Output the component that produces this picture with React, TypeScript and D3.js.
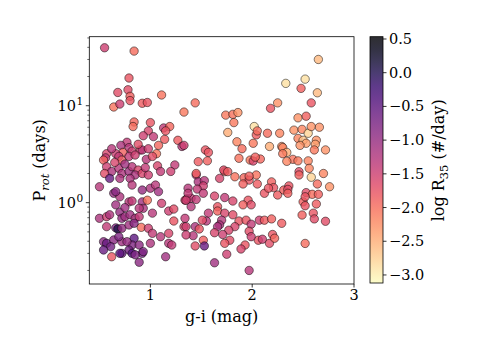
import * as d3 from 'd3';
import React from 'react';

// g-i colour (mag) of each star
const giVals = [
  // upper left
  0.55, 0.84, 0.79, 0.68, 0.78, 0.80, 0.80, 0.64, 0.70, 0.92, 0.97, 1.11, 1.44, 1.33, 0.84, 0.83, 1.00, 0.98, 0.93, 1.03,
  1.13, 1.19, 1.14, 1.27, 1.31, 1.08, 1.06, 1.54, 1.15,
  // left, 2-4 days
  0.77, 0.71, 0.79, 0.82, 0.90, 0.92, 0.98, 0.73, 0.66, 0.57, 0.56, 0.54, 0.69, 0.72, 0.79, 0.85, 0.96, 1.07, 1.24, 0.57,
  0.62, 0.55, 0.69, 0.72, 0.79, 0.82, 0.88, 0.85, 0.92, 0.98, 0.60, 1.10, 1.20, 0.70, 0.80, 0.62, 0.88, 0.75, 0.95, 0.65,
  1.02,
  // lower left
  0.50, 0.64, 0.70, 0.66, 0.82, 0.92, 1.00, 1.05, 1.08, 0.79, 0.82, 0.92, 0.97, 0.93, 1.11, 1.18, 1.23, 1.34, 1.36, 1.23,
  1.33, 0.50, 0.57, 0.60, 0.70, 0.72, 0.75, 0.80, 0.85, 0.89, 0.57, 0.66, 0.68, 0.72, 0.91, 0.79, 0.84, 0.98, 1.02, 1.10,
  1.18, 0.54, 0.57, 0.64, 0.61, 0.72, 0.84, 0.82, 0.79, 0.72, 0.82, 0.92, 0.89, 0.93, 0.89, 0.62, 1.00, 1.15, 1.18, 1.21,
  0.54, 0.69, 0.70, 0.77, 0.85, 0.89, 0.75, 1.02, 0.66,
  // middle, upper
  1.74, 1.81, 1.86, 1.82, 2.02, 2.04, 2.05, 2.15, 1.76, 1.85, 1.90, 2.01, 2.17, 2.27, 2.29, 1.57, 1.56, 1.47, 1.87, 1.98,
  2.01, 2.08, 1.73, 1.72, 1.76, 1.83, 1.68, 1.92, 1.97, 1.91, 2.04, 2.05, 2.19, 1.45, 1.47, 1.53, 1.52, 1.46, 1.37, 1.40,
  1.52, 1.73, 2.12, 2.25, 2.31, 2.21,
  // middle, lower
  1.81, 1.96, 1.91, 1.99, 1.66, 1.66, 1.73, 1.81, 1.57, 1.55, 1.70, 1.68, 1.66, 1.87, 1.83, 1.77, 1.63, 1.71, 1.78, 1.73,
  1.52, 1.53, 1.44, 1.42, 1.44, 1.48, 1.35, 1.35, 1.93, 1.89, 1.94, 1.99, 2.07, 2.12, 2.19, 2.06, 2.10, 2.17, 2.20, 2.22,
  2.29, 1.75, 1.63, 1.97, 1.51, 1.40, 1.63,
  // right
  2.64, 2.25, 2.58, 2.45, 2.53, 2.41, 2.49, 2.55, 2.58, 2.66, 2.45, 2.50, 2.53, 2.63, 2.62, 2.47, 2.61, 2.72, 2.30, 2.34,
  2.30, 2.40, 2.45, 2.34, 2.55, 2.56, 2.46, 2.46, 2.58, 2.70, 2.64, 2.76, 2.36, 2.35, 2.53, 2.59, 2.65, 2.65, 2.33, 2.52,
  2.48, 2.18,
  // misc
  2.03, 1.97, 2.16, 2.35, 2.50, 2.52, 2.63, 2.49, 2.60, 2.61, 2.72, 2.52, 1.97, 1.99, 2.52, 1.37, 1.35, 1.45, 1.34, 1.33,
  1.45,
];

// rotation period (days)
const protVals = [
  39.6, 36.6, 19.3, 13.7, 14.6, 12.5, 11.3, 9.7, 10.4, 10.6, 10.8, 12.9, 10.7, 8.6, 6.8, 6.1, 6.7, 5.5, 4.9, 4.8,
  5.9, 6.1, 4.5, 4.4, 3.8, 3.9, 3.2, 3.5, 5.5,

  4.2, 3.9, 3.7, 3.4, 3.5, 3.5, 3.6, 3.3, 3.2, 3.2, 2.9, 2.75, 3.0, 2.75, 3.0, 3.1, 2.8, 2.4, 2.45, 2.35,
  2.1, 2.0, 2.26, 2.0, 2.1, 2.35, 2.17, 1.93, 2.0, 1.93, 1.78, 2.1, 2.1, 1.78, 1.78, 3.6, 4.0, 2.5, 2.3, 2.6,
  3.0,

  1.46, 1.25, 1.15, 1.3, 1.52, 1.35, 1.41, 1.52, 1.3, 1.02, 1.04, 1.02, 1.06, 0.875, 0.985, 0.82, 0.86, 1.06, 1.1, 0.647,
  0.566, 0.69, 0.717, 0.75, 0.80, 0.69, 0.717, 0.75, 0.69, 0.717, 0.566, 0.55, 0.536, 0.545, 0.557, 0.589, 0.613, 0.545, 0.483, 0.446,
  0.483, 0.396, 0.381, 0.413, 0.352, 0.396, 0.429, 0.366, 0.325, 0.30, 0.30, 0.30, 0.366, 0.313, 0.243, 0.277, 0.381, 0.277, 0.381, 0.366,
  0.325, 0.446, 0.30, 0.396, 0.29, 0.875, 0.89, 0.78, 0.95,

  8.0, 8.15, 8.5, 6.7, 6.1, 5.0, 5.5, 5.2, 5.3, 4.25, 3.6, 4.1, 3.8, 5.2, 3.8, 3.3, 2.7, 2.65, 2.87, 2.75,
  2.69, 2.82, 2.09, 2.17, 2.09, 1.85, 1.78, 1.81, 1.71, 1.56, 1.93, 1.56, 1.64, 1.93, 1.64, 1.69, 1.49, 1.38, 1.41, 1.11,
  1.25, 1.13, 1.25, 1.2, 1.35, 1.43,

  1.04, 1.06, 0.95, 0.95, 0.91, 0.82, 0.78, 0.75, 0.78, 0.647, 0.66, 0.59, 0.566, 0.647, 0.566, 0.52, 0.49, 0.47, 0.41, 0.381,
  0.41, 0.358, 0.358, 0.457, 0.566, 0.536, 0.566, 0.465, 0.366, 0.333, 0.66, 0.60, 0.66, 0.66, 0.68, 0.41, 0.42, 0.381, 0.47, 0.43,
  0.613, 0.294, 0.24, 0.20, 0.66, 0.91, 1.17,

  13.6, 10.7, 10.7, 7.5, 7.8, 5.6, 5.7, 5.2, 6.1, 6.0, 4.6, 4.4, 4.1, 4.4, 4.0, 3.9, 3.5, 3.5, 3.7, 3.3,
  3.2, 2.8, 2.7, 2.67, 2.7, 2.26, 2.09, 1.93, 1.83, 2.0, 1.56, 1.46, 1.49, 1.37, 1.27, 1.22, 1.22, 30, 17, 18.8,
  15.1, 9.4,

  2.95, 1.88, 1.41, 1.25, 1.02, 0.93, 0.97, 0.746, 0.78, 0.68, 0.643, 0.38, 0.507, 0.446, 1.15, 1.25, 1.06, 1.08, 0.69, 3.9,
  2.0,
];

// log R35 (#/day), the colour value
const logRVals = [
  -1.5, -2.0, -1.8, -1.7, -1.7, -1.9, -1.8, -2.05, -1.5, -1.85, -1.8, -2.05, -2.0, -2.1, -1.95, -2.0, -1.8, -1.6, -1.5, -1.4,
  -1.4, -1.95, -1.85, -1.85, -1.3, -1.95, -2.05, -1.8, -1.8,

  -1.4, -1.2, -1.3, -1.5, -1.6, -1.3, -1.5, -1.9, -1.5, -1.6, -1.4, -1.9, -1.4, -1.85, -1.4, -1.5, -1.3, -1.6, -1.4, -1.5,
  -1.2, -1.7, -1.3, -1.2, -1.1, -1.3, -1.6, -1.2, -1.6, -1.5, -0.6, -1.4, -1.5, -1.2, -1.2, -1.3, -1.7, -1.1, -1.4, -1.6,
  -1.7,

  -1.3, -1.0, -1.2, -0.9, -1.3, -1.0, -1.2, -1.3, -1.1, -1.3, -1.4, -1.1, -2.05, -1.2, -1.5, -1.5, -1.7, -1.6, -1.6, -1.8,
  -1.6, -1.2, -1.5, -1.2, -1.0, -1.0, -1.1, -1.1, -1.2, -1.4, -1.4, -0.8, 0.1, -1.0, -2.0, -1.1, -0.9, -1.5, -1.4, -1.3,
  -1.6, -0.9, -0.6, -0.9, -0.7, -1.1, -0.5, -0.8, -0.7, -0.6, -0.4, -0.7, -0.9, -0.8, -0.9, -1.8, -1.2, -1.1, -1.3, -1.4,
  -0.6, -0.8, -0.5, -1.0, -0.8, -1.3, -1.1, -1.3, -1.1,

  -2.1, -2.05, -2.3, -2.1, -2.9, -1.85, -2.0, -2.0, -2.5, -2.2, -2.0, -2.1, -2.5, -2.2, -2.3, -1.8, -1.9, -1.85, -2.05, -2.1,
  -1.6, -1.95, -1.9, -1.7, -1.85, -2.05, -1.6, -1.95, -1.8, -1.9, -2.05, -1.85, -1.9, -1.4, -1.2, -1.3, -1.5, -1.4, -1.3, -1.4,
  -1.4, -1.4, -1.8, -1.85, -1.9, -1.8,

  -1.6, -1.8, -1.9, -1.7, -1.8, -1.9, -1.6, -1.7, -1.4, -1.3, -1.3, -1.2, -1.2, -1.8, -1.6, -1.6, -1.6, -1.5, -1.7, -1.8,
  -1.9, -0.6, -1.7, -1.3, -1.2, -1.8, -1.5, -1.5, -1.8, -1.6, -1.8, -1.4, -1.5, -1.85, -1.9, -1.8, -1.5, -1.7, -1.8, -1.95,
  -1.85, -1.5, -1.1, -1.3, -1.7, -1.3, -1.6,

  -2.6, -2.3, -1.8, -2.3, -1.9, -2.3, -2.2, -2.8, -2.3, -2.3, -2.2, -2.7, -2.4, -2.3, -2.4, -2.3, -2.1, -2.3, -2.2, -2.5,
  -2.1, -2.05, -2.1, -2.2, -2.2, -2.2, -1.7, -1.9, -2.8, -2.2, -2.0, -2.3, -1.8, -1.7, -1.7, -2.0, -1.9, -2.6, -2.9, -2.9,
  -1.9, -1.8,

  -1.9, -1.9, -1.8, -1.9, -1.9, -1.8, -1.85, -1.9, -1.8, -1.7, -1.7, -2.0, -1.7, -1.5, -1.8, -1.4, -1.5, -1.4, -1.4, -1.5,
  -1.9,
];

const xTicks = [1, 2, 3];
const yDecades = [0, 1];
const cbTicks = [0.5, 0.0, -0.5, -1.0, -1.5, -2.0, -2.5, -3.0];
const cbMin = -3.134;
const cbMax = 0.534;

const FONT = '"DejaVu Serif", serif';

export default function App() {
  const left = 89.3, right = 354, top = 36.7, bottom = 284;
  const x = d3.scaleLinear().domain([0.4, 3.0]).range([left, right]);
  const y = d3.scaleLog().domain([0.145, 51.5]).range([bottom, top]);
  const cb = d3.scaleLinear().domain([cbMin, cbMax]).range([bottom, top]);
  const color = (v: number) => d3.interpolateMagma((cbMax - v) / (cbMax - cbMin));

  const points = giVals.map((g, i) => ({ g, p: protVals[i], r: logRVals[i] }));

  // minor ticks for the log axis
  const minor: number[] = [];
  [-1, 0, 1].forEach(d => {
    for (let k = 2; k <= 9; k++) {
      const v = k * Math.pow(10, d);
      if (v > 0.145 && v < 51.5) minor.push(v);
    }
  });

  const cbX = 370, cbW = 13;
  const stops = d3.range(0, 1.0001, 0.05);

  return (
    <svg width={484} height={360} style={{ position: 'absolute', left: 0, top: 0 }} fontFamily={FONT}>
      <defs>
        <linearGradient id="cbGrad" x1="0" y1="1" x2="0" y2="0">
          {stops.map(t => (
            <stop key={t} offset={t} stopColor={color(cbMin + t * (cbMax - cbMin))} />
          ))}
        </linearGradient>
      </defs>
      <rect width={484} height={360} fill="#fff" />

      {/* points */}
      <g>
        {points.map((d, i) => (
          <circle key={i} cx={x(d.g)} cy={y(d.p)} r={4.2}
            fill={color(d.r)} fillOpacity={0.8}
            stroke="#000" strokeOpacity={0.7} strokeWidth={0.7} />
        ))}
      </g>

      {/* frame */}
      <rect x={left} y={top} width={right - left} height={bottom - top} fill="none" stroke="#000" strokeWidth={0.8} />

      {/* x axis */}
      {xTicks.map(t => (
        <g key={t}>
          <line x1={x(t)} x2={x(t)} y1={bottom} y2={bottom + 3.5} stroke="#000" strokeWidth={0.8} />
          <text x={x(t)} y={bottom + 15.5} fontSize={14.5} textAnchor="middle">{t}</text>
        </g>
      ))}
      <text x={(left + right) / 2} y={322} fontSize={16} textAnchor="middle">g-i (mag)</text>

      {/* y axis */}
      {yDecades.map(d => (
        <g key={d}>
          <line x1={left} x2={left - 3.5} y1={y(Math.pow(10, d))} y2={y(Math.pow(10, d))} stroke="#000" strokeWidth={0.8} />
          <text x={76} y={y(Math.pow(10, d)) + 5.5} fontSize={14.5} textAnchor="end">10</text>
          <text x={76.5} y={y(Math.pow(10, d)) - 1} fontSize={10.5}>{d}</text>
        </g>
      ))}
      {minor.map(v => (
        <line key={v} x1={left} x2={left - 2} y1={y(v)} y2={y(v)} stroke="#000" strokeWidth={0.6} />
      ))}
      <text transform={`translate(45,${(top + bottom) / 2}) rotate(-90)`} fontSize={16} textAnchor="middle">
        P<tspan fontSize={11.5} fontStyle="italic" dy={4}>rot</tspan><tspan dy={-4}> (days)</tspan>
      </text>

      {/* colorbar */}
      <rect x={cbX} y={top} width={cbW} height={bottom - top - 1} fill="url(#cbGrad)" fillOpacity={0.82} />
      <rect x={cbX} y={top} width={cbW} height={bottom - top - 1} fill="none" stroke="#000" strokeWidth={0.8} />
      {cbTicks.map(t => (
        <g key={t}>
          <line x1={cbX + cbW} x2={cbX + cbW + 3.5} y1={cb(t)} y2={cb(t)} stroke="#000" strokeWidth={0.8} />
          <text x={cbX + cbW + 6} y={cb(t) + 5} fontSize={14.5}>{t < 0 ? '\u2212' + Math.abs(t).toFixed(1) : t.toFixed(1)}</text>
        </g>
      ))}
      <text transform={`translate(444,${(top + bottom) / 2}) rotate(-90)`} fontSize={16} textAnchor="middle">
        log R<tspan fontSize={11.5} dy={4}>35</tspan><tspan dy={-4}> (#/day)</tspan>
      </text>
    </svg>
  );
}
